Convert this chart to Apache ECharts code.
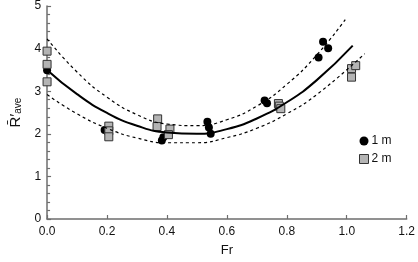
<!DOCTYPE html>
<html>
<head>
<meta charset="utf-8">
<script src="https://cdn.jsdelivr.net/npm/echarts@6/dist/echarts.min.js"></script>
<style>
  html, body { margin: 0; padding: 0; background: #fff; }
  #chart { width: 418px; height: 262px; }
</style>
</head>
<body>
<div id="chart"></div>
<script>
// measured points, 1 m runs (circles)
const fr1m = [0.0, 0.192, 0.383, 0.388, 0.535, 0.54, 0.546, 0.726, 0.734, 0.906, 0.921, 0.938];
const r1m = [3.49, 2.09, 1.84, 1.92, 2.28, 2.15, 2.0, 2.78, 2.72, 3.79, 4.16, 4.01];

// measured points, 2 m runs (squares)
const fr2m = [0.0, 0.0, 0.0, 0.206, 0.206, 0.206, 0.369, 0.367, 0.41, 0.405, 0.772, 0.775, 0.78, 1.016, 1.03, 1.016];
const r2m = [3.94, 3.63, 3.22, 2.18, 2.07, 1.93, 2.35, 2.17, 2.11, 1.98, 2.71, 2.65, 2.59, 3.53, 3.6, 3.33];

// fitted curve and dashed bounds
const fitFr = [0, 0.1, 0.2, 0.3, 0.4, 0.5, 0.6, 0.7, 0.8, 0.9, 1.02];
const fitMid = [3.5, 2.93, 2.49, 2.19, 2.03, 2.0, 2.11, 2.36, 2.74, 3.26, 4.07];
const upFr = [0, 0.1, 0.2, 0.3, 0.4, 0.5, 0.6, 0.7, 0.8, 0.9, 0.995];
const upR = [4.23, 3.45, 2.86, 2.45, 2.23, 2.19, 2.33, 2.65, 3.16, 3.85, 4.68];
const loFr = [0, 0.1, 0.2, 0.3, 0.4, 0.5, 0.6, 0.7, 0.8, 0.9, 1.06];
const loR = [2.92, 2.47, 2.13, 1.9, 1.79, 1.79, 1.91, 2.13, 2.47, 2.92, 3.88];

const xTicks = [0, 0.2, 0.4, 0.6, 0.8, 1.0, 1.2];

const zip = (a, b) => a.map((v, i) => [v, b[i]]);
const font = "'Liberation Sans', Arial, sans-serif";

const chart = echarts.init(document.getElementById("chart"), undefined, { renderer: "canvas" });
const axisCol = "#6e6e6e";

chart.setOption({
  animation: false,
  textStyle: { fontFamily: font, color: "#111" },
  grid: { left: 36, right: 9, top: 5, bottom: 41 },
  legend: {
    orient: "vertical",
    left: 354,
    top: 130,
    itemWidth: 9,
    itemHeight: 9,
    itemGap: 6,
    textStyle: { fontSize: 12, color: "#111", padding: [0, 0, 0, -2] },
    data: [
      { name: "1 m", icon: "circle", itemStyle: { color: "#000", borderWidth: 0 } },
      { name: "2 m", icon: "rect", itemStyle: { color: "#b4b4b4", borderColor: "#333", borderWidth: 1 } },
    ],
  },
  xAxis: {
    type: "value",
    min: 0,
    max: 1.2,
    interval: 0.2,
    name: "Fr",
    nameLocation: "middle",
    nameGap: 25,
    nameTextStyle: { fontSize: 13, color: "#111" },
    axisLine: { lineStyle: { color: axisCol, width: 1.5 } },
    axisTick: { inside: true, length: 4, lineStyle: { color: axisCol, width: 1.2 } },
    axisLabel: { fontSize: 12, color: "#111", margin: 7, formatter: (v) => v.toFixed(1), customValues: xTicks },
    splitLine: { show: false },
  },
  yAxis: {
    type: "value",
    min: 0,
    max: 5,
    interval: 1,
    name: "{r|R\u0304\u2032}{s|ave}",
    nameLocation: "middle",
    nameGap: 21,
    nameTextStyle: {
      rich: {
        r: { fontSize: 15, color: "#111", fontFamily: font },
        s: { fontSize: 10, color: "#111", fontFamily: font, verticalAlign: "bottom", padding: [6, 0, 0, 0] },
      },
    },
    axisLine: { show: true, lineStyle: { color: axisCol, width: 1.5 } },
    axisTick: { inside: true, length: 4, lineStyle: { color: axisCol, width: 1.2 } },
    minorTick: { show: true, splitNumber: 5, length: 3, lineStyle: { color: axisCol, width: 1.2 } },
    axisLabel: { fontSize: 12, color: "#111", margin: 6 },
    splitLine: { show: false },
  },
  series: [
    {
      name: "upper",
      type: "line",
      smooth: true,
      showSymbol: false,
      silent: true,
      lineStyle: { color: "#000", width: 1.2, type: [3, 3] },
      data: zip(upFr, upR),
    },
    {
      name: "lower",
      type: "line",
      smooth: true,
      showSymbol: false,
      silent: true,
      lineStyle: { color: "#000", width: 1.2, type: [3, 3] },
      data: zip(loFr, loR),
    },
    {
      name: "fit",
      type: "line",
      smooth: true,
      showSymbol: false,
      silent: true,
      lineStyle: { color: "#000", width: 2 },
      data: zip(fitFr, fitMid),
    },
    {
      name: "1 m",
      type: "scatter",
      symbol: "circle",
      symbolSize: 8,
      itemStyle: { color: "#000", opacity: 1 },
      data: zip(fr1m, r1m),
    },
    {
      name: "2 m",
      type: "scatter",
      symbol: "rect",
      symbolSize: 8,
      itemStyle: { color: "#b4b4b4", borderColor: "#333", borderWidth: 1, opacity: 1 },
      data: zip(fr2m, r2m),
    },
  ],
});
</script>
</body>
</html>
